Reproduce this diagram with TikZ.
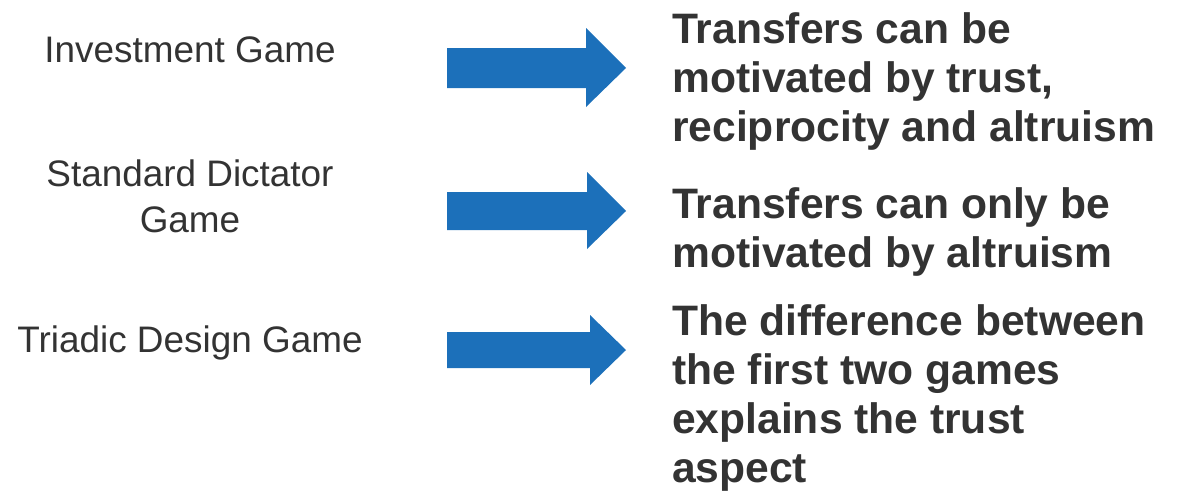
\documentclass[tikz,border=0pt]{standalone}
\usepackage{fontspec}
\setmainfont{Liberation Sans}
\definecolor{arrowblue}{HTML}{1C70BA}
\definecolor{txtgray}{HTML}{333333}
\begin{document}
\begin{tikzpicture}[x=1pt,y=-1pt,
  gamelabel/.style={anchor=base, inner sep=0pt, text=txtgray,
    font=\fontsize{36.9}{46}\selectfont},
  outcome/.style={anchor=base west, inner sep=0pt, text=txtgray,
    font=\fontsize{42.6}{49.3}\selectfont\bfseries},
  bigarrow/.style={fill=arrowblue, draw=none}]
\useasboundingbox (0,0) rectangle (1183,496);

% game names on the left
\node[gamelabel] (inv) at (190,62) {Investment Game};
\node[gamelabel] (dict) at (190,186)
  {\parbox[t]{360pt}{\centering Standard Dictator\\Game}};
\node[gamelabel] (tri) at (190,352) {Triadic Design Game};

% block arrows
\fill[bigarrow] (447,48) -- (586,48) -- (586,28) -- (626,68)
  -- (586,107) -- (586,88) -- (447,88) -- cycle;
\fill[bigarrow] (447,192) -- (587,192) -- (587,172) -- (626,211)
  -- (587,249) -- (587,230) -- (447,230) -- cycle;
\fill[bigarrow] (447,332) -- (590,332) -- (590,315) -- (626,350)
  -- (590,385) -- (590,368) -- (447,368) -- cycle;

% what each game identifies
\node[outcome] (o1) at (672,43)
  {\parbox[t]{510pt}{\raggedright Transfers can be\\motivated by trust,\\reciprocity and altruism}};
\node[outcome] (o2) at (672,218)
  {\parbox[t]{510pt}{\raggedright Transfers can only be\\motivated by altruism}};
\node[outcome] (o3) at (672,335)
  {\parbox[t]{510pt}{\raggedright The difference between\\the first two games\\explains the trust\\aspect}};
\end{tikzpicture}
\end{document}
